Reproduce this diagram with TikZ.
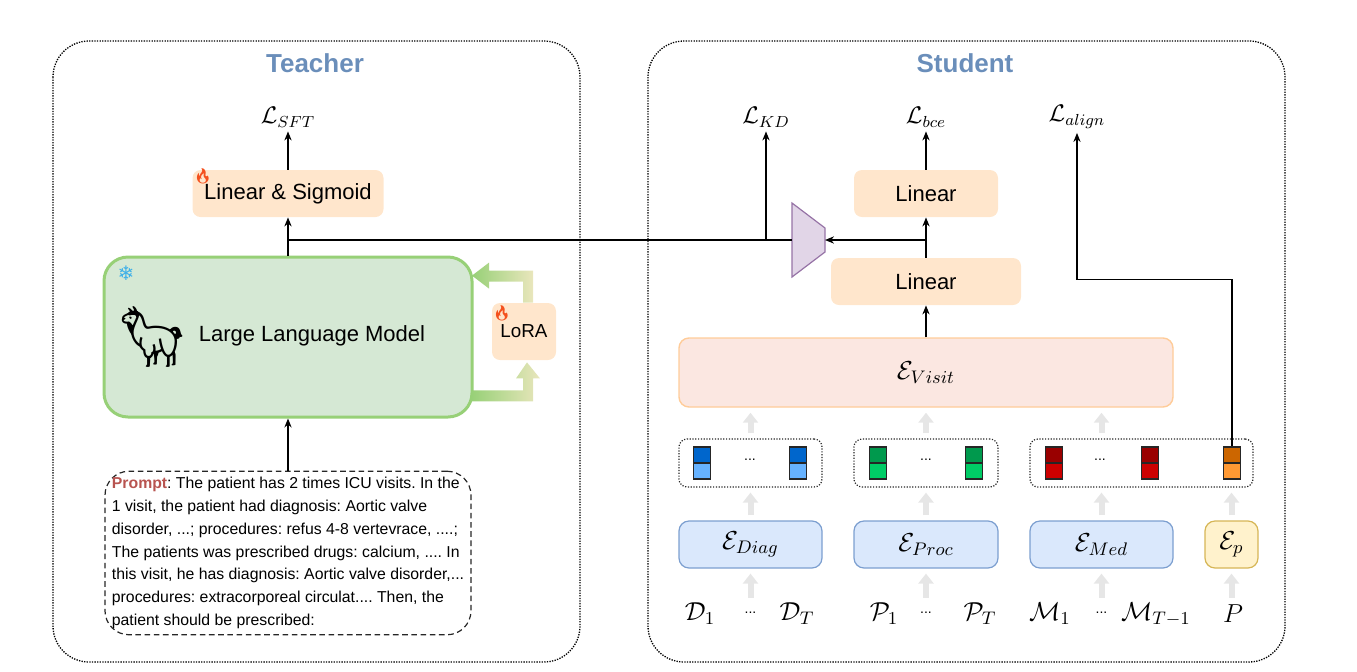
\RequirePackage{fix-cm}
\documentclass[tikz,border=0pt]{standalone}
\usepackage{amsmath}
\usepackage{fontspec}
\setmainfont{Liberation Sans}
\newfontfamily\emojifont{Noto Emoji}
\newfontfamily\symfont{DejaVu Sans}
\usepackage{tikz}
\usetikzlibrary{positioning}
\usetikzlibrary{arrows.meta}
\frenchspacing

\definecolor{linfill}{HTML}{FFE6CC}
\definecolor{llmfill}{HTML}{D5E8D4}
\definecolor{llmline}{HTML}{97D077}
\definecolor{lorapale}{HTML}{E9E6BC}
\definecolor{encfill}{HTML}{DAE8FC}
\definecolor{encline}{HTML}{7C9FD0}
\definecolor{pfill}{HTML}{FFF2CC}
\definecolor{pline}{HTML}{D6B656}
\definecolor{visitfill}{HTML}{FBE7E1}
\definecolor{visitline}{HTML}{FFCC99}
\definecolor{trapfill}{HTML}{E1D5E7}
\definecolor{trapline}{HTML}{9673A6}
\definecolor{titleblue}{HTML}{6A8EBA}
\definecolor{promptred}{HTML}{B85450}
\definecolor{garrowc}{HTML}{E6E6E6}
\definecolor{firec}{HTML}{F4511E}
\definecolor{snowc}{HTML}{3FB0E8}
\definecolor{blueA}{HTML}{0066CC}
\definecolor{blueB}{HTML}{66B2FF}
\definecolor{greenA}{HTML}{00994D}
\definecolor{greenB}{HTML}{00CC66}
\definecolor{redA}{HTML}{990000}
\definecolor{redB}{HTML}{CC0000}
\definecolor{orangeA}{HTML}{CC6600}
\definecolor{orangeB}{HTML}{FF9933}

\tikzset{
  panel/.style={draw=black, line width=0.65pt, dash pattern=on 0.65pt off 0.65pt, rounded corners=18pt},
  title/.style={text=titleblue, font=\fontsize{13}{15}\selectfont\bfseries},
  loss/.style={inner sep=2pt, font=\fontsize{12}{14}\selectfont},
  linbox/.style={fill=linfill, rounded corners=4pt, minimum height=23.5pt, font=\fontsize{11}{13}\selectfont},
  llmbox/.style={fill=llmfill, draw=llmline, line width=1.5pt, rounded corners=12pt, minimum width=184pt, minimum height=80pt},
  lorabox/.style={fill=linfill, rounded corners=4pt, minimum width=32pt, minimum height=28.5pt, font=\fontsize{9.4}{11}\selectfont},
  promptbox/.style={draw=black!85, line width=0.6pt, dash pattern=on 2.8pt off 1.8pt, rounded corners=12pt, align=left, minimum width=183pt, minimum height=81.5pt, inner sep=3pt, font=\fontsize{7.9}{11.4}\selectfont},
  encbox/.style={fill=encfill, draw=encline, line width=0.6pt, rounded corners=5pt, minimum height=23.5pt, font=\fontsize{13}{15}\selectfont},
  grp/.style={draw=black!85, line width=0.6pt, dash pattern=on 0.6pt off 0.8pt, rounded corners=4pt, minimum height=24pt},
  tok/.style={draw=black!85, line width=0.8pt, minimum width=8.5pt, minimum height=8pt, inner sep=0pt},
  var/.style={inner sep=1pt, font=\fontsize{13}{15}\selectfont},
  dots/.style={inner sep=0pt, minimum height=10pt, font=\fontsize{7}{8}\selectfont},
  fire/.style={inner sep=0pt, text=firec, font=\emojifont\fontsize{7.5}{8}\selectfont},
  garrow/.style={draw=garrowc, line width=3pt, -{Triangle[width=7.5pt,length=5pt]}, shorten <=2.5pt, shorten >=2.5pt},
  link/.style={draw=black, line width=0.65pt},
}

\begin{document}
\begin{tikzpicture}[x=0.5pt, y=-0.5pt, >={Stealth[length=4.5pt,width=3.6pt]}]
  \useasboundingbox (0,0) rectangle (1357,671);

  % the two panels
  \draw[panel] (53,41) rectangle (580,662);
  \draw[panel] (648,41) rectangle (1285,662);
  \node[title] (tteach) at (315,63) {Teacher};
  \node[title] (tstud) at (965,63) {Student};

  % teacher
  \node[loss] (lsft) at (288,117) {$\mathcal{L}_{SFT}$};
  \node[linbox, minimum width=95.5pt] (linsig) at (288,193.5) {Linear \& Sigmoid};
  \node[fire] (fire1) at (203,176) {🔥};
  \node[llmbox] (llm) at (288,337) {};
  \node[font=\fontsize{11}{13}\selectfont] (llmtxt) at (312,336) {Large Language Model};
  \node[inner sep=0pt, font=\emojifont\fontsize{30}{32}\selectfont] (llama) at (153,337) {🦙};
  \node[inner sep=0pt, text=snowc, font=\symfont\fontsize{10}{11}\selectfont] (snow) at (126,273) {❄};
  \node[lorabox] (lora) at (524,331.5) {LoRA};
  \node[fire] (fire2) at (502,313) {🔥};
  \node[promptbox] (prompt) at (288,553) {\textcolor{promptred}{\textbf{Prompt}}: The patient has 2 times ICU visits. In the\\
    1 visit, the patient had diagnosis: Aortic valve\\
    disorder, ...; procedures: refus 4-8 vertevrace, ....;\\
    The patients was prescribed drugs: calcium, .... In\\
    this visit, he has diagnosis: Aortic valve disorder,...\\
    procedures: extracorporeal circulat.... Then, the\\
    patient should be prescribed:};

  % lora loop
  \begin{scope}[shift={(lora.south)}]
    \shade[left color=llmline, right color=lorapale]
      (-53,30) -- (-1,30) -- (-1,18) -- (-8,18) -- (3,2) -- (16,18) -- (9,18) -- (9,41) -- (-53,41) -- cycle;
  \end{scope}
  \begin{scope}[shift={(lora.north)}]
    \shade[left color=llmline, right color=lorapale]
      (-52,-27) -- (-35,-40) -- (-35,-32) -- (9,-32) -- (9,0) -- (-1,0) -- (-1,-21) -- (-35,-21) -- (-35,-14) -- cycle;
  \end{scope}

  % student
  \node[loss] (lkd) at (766,117) {$\mathcal{L}_{KD}$};
  \node[loss] (lbce) at (926,117) {$\mathcal{L}_{bce}$};
  \node[loss] (lalign) at (1077,117) {$\mathcal{L}_{align}$};
  \node[linbox, minimum width=72pt] (lin2) at (926,193.5) {Linear};
  \node[linbox, minimum width=95pt] (lin3) at (926,281.5) {Linear};
  \node[fill=visitfill, draw=visitline, line width=0.7pt, rounded corners=5pt, minimum width=247pt, minimum height=34.5pt, font=\fontsize{13}{15}\selectfont] (visit) at (926,372.5) {$\mathcal{E}_{Visit}$};
  \coordinate (trapL) at (792,240);
  \coordinate (trapR) at (825,240);
  \draw[fill=trapfill, draw=trapline, line width=0.6pt] (792,203) -- (825,228) -- (825,252) -- (792,277) -- cycle;

  % visit tokens
  \node[grp, minimum width=71.5pt] (gdiag) at (750.5,463) {};
  \node[grp, minimum width=72pt] (gproc) at (926,463) {};
  \node[grp, minimum width=111.5pt] (gmed) at (1141.5,463) {};
  \foreach \n/\x/\ca/\cb in {da/702/blueA/blueB, db/798/blueA/blueB, pa/878/greenA/greenB, pb/974/greenA/greenB,
                             ma/1054/redA/redB, mb/1150/redA/redB, o/1232/orangeA/orangeB} {
    \node[tok, fill=\ca] (\n-top) at (\x,455) {};
    \node[tok, fill=\cb] (\n-bot) at (\x,471) {};
  }
  \node[dots] (gd1) at (750,460) {...};
  \node[dots] (gd2) at (926,460) {...};
  \node[dots] (gd3) at (1100,460) {...};

  % encoders
  \node[encbox, minimum width=71.5pt] (ediag) at (750.5,544.5) {$\mathcal{E}_{Diag}$};
  \node[encbox, minimum width=72pt] (eproc) at (926,544.5) {$\mathcal{E}_{Proc}$};
  \node[encbox, minimum width=71.5pt] (emed) at (1101.5,544.5) {$\mathcal{E}_{Med}$};
  \node[encbox, fill=pfill, draw=pline, minimum width=26.5pt] (ep) at (1231.5,544.5) {$\mathcal{E}_{p}$};

  % inputs
  \node[var] (d1) at (700,614) {$\mathcal{D}_1$};
  \node[dots] (dd) at (750.5,613) {...};
  \node[var] (dT) at (797,614) {$\mathcal{D}_T$};
  \node[var] (p1) at (884,614) {$\mathcal{P}_1$};
  \node[dots] (pd) at (926,613) {...};
  \node[var] (pT) at (980,614) {$\mathcal{P}_T$};
  \node[var] (m1) at (1050,614) {$\mathcal{M}_1$};
  \node[dots] (md) at (1101.5,613) {...};
  \node[var] (mT) at (1156,614) {$\mathcal{M}_{T-1}$};
  \node[var] (pp) at (1233,614) {$P$};

  % connectors
  \draw[link, ->] (linsig) -- (lsft);
  \draw[link, ->] (llm) -- (linsig);
  \draw[link, ->] (prompt) -- (llm);
  \coordinate (tj) at (288,240);
  \draw[link] (tj) -- (trapL);
  \draw[link, ->] (lkd |- tj) -- (lkd);
  \draw[link, ->] (visit) -- (lin3);
  \draw[link, ->] (lin3) -- (lin2);
  \draw[link, ->] (lin2) -- (lbce);
  \draw[link, ->] (lin3 |- tj) -- (trapR);
  \draw[link, ->] (o-top.north) -- ++(0,-167) -| (lalign);

  \foreach \e/\g in {ediag/gdiag, eproc/gproc, emed/gmed} {
    \draw[garrow] (\e.north) -- (\e.north |- \g.south);
    \draw[garrow] (\e.north |- \g.north) -- (\e.north |- visit.south);
  }
  \draw[garrow] (ep.north) -- (ep.north |- gmed.south);
  \draw[garrow] (dd.north) -- (ediag.south);
  \draw[garrow] (pd.north) -- (eproc.south);
  \draw[garrow] (md.north) -- (emed.south);
  \draw[garrow] (pp.north -| ep.south) -- (ep.south);
\end{tikzpicture}
\end{document}
